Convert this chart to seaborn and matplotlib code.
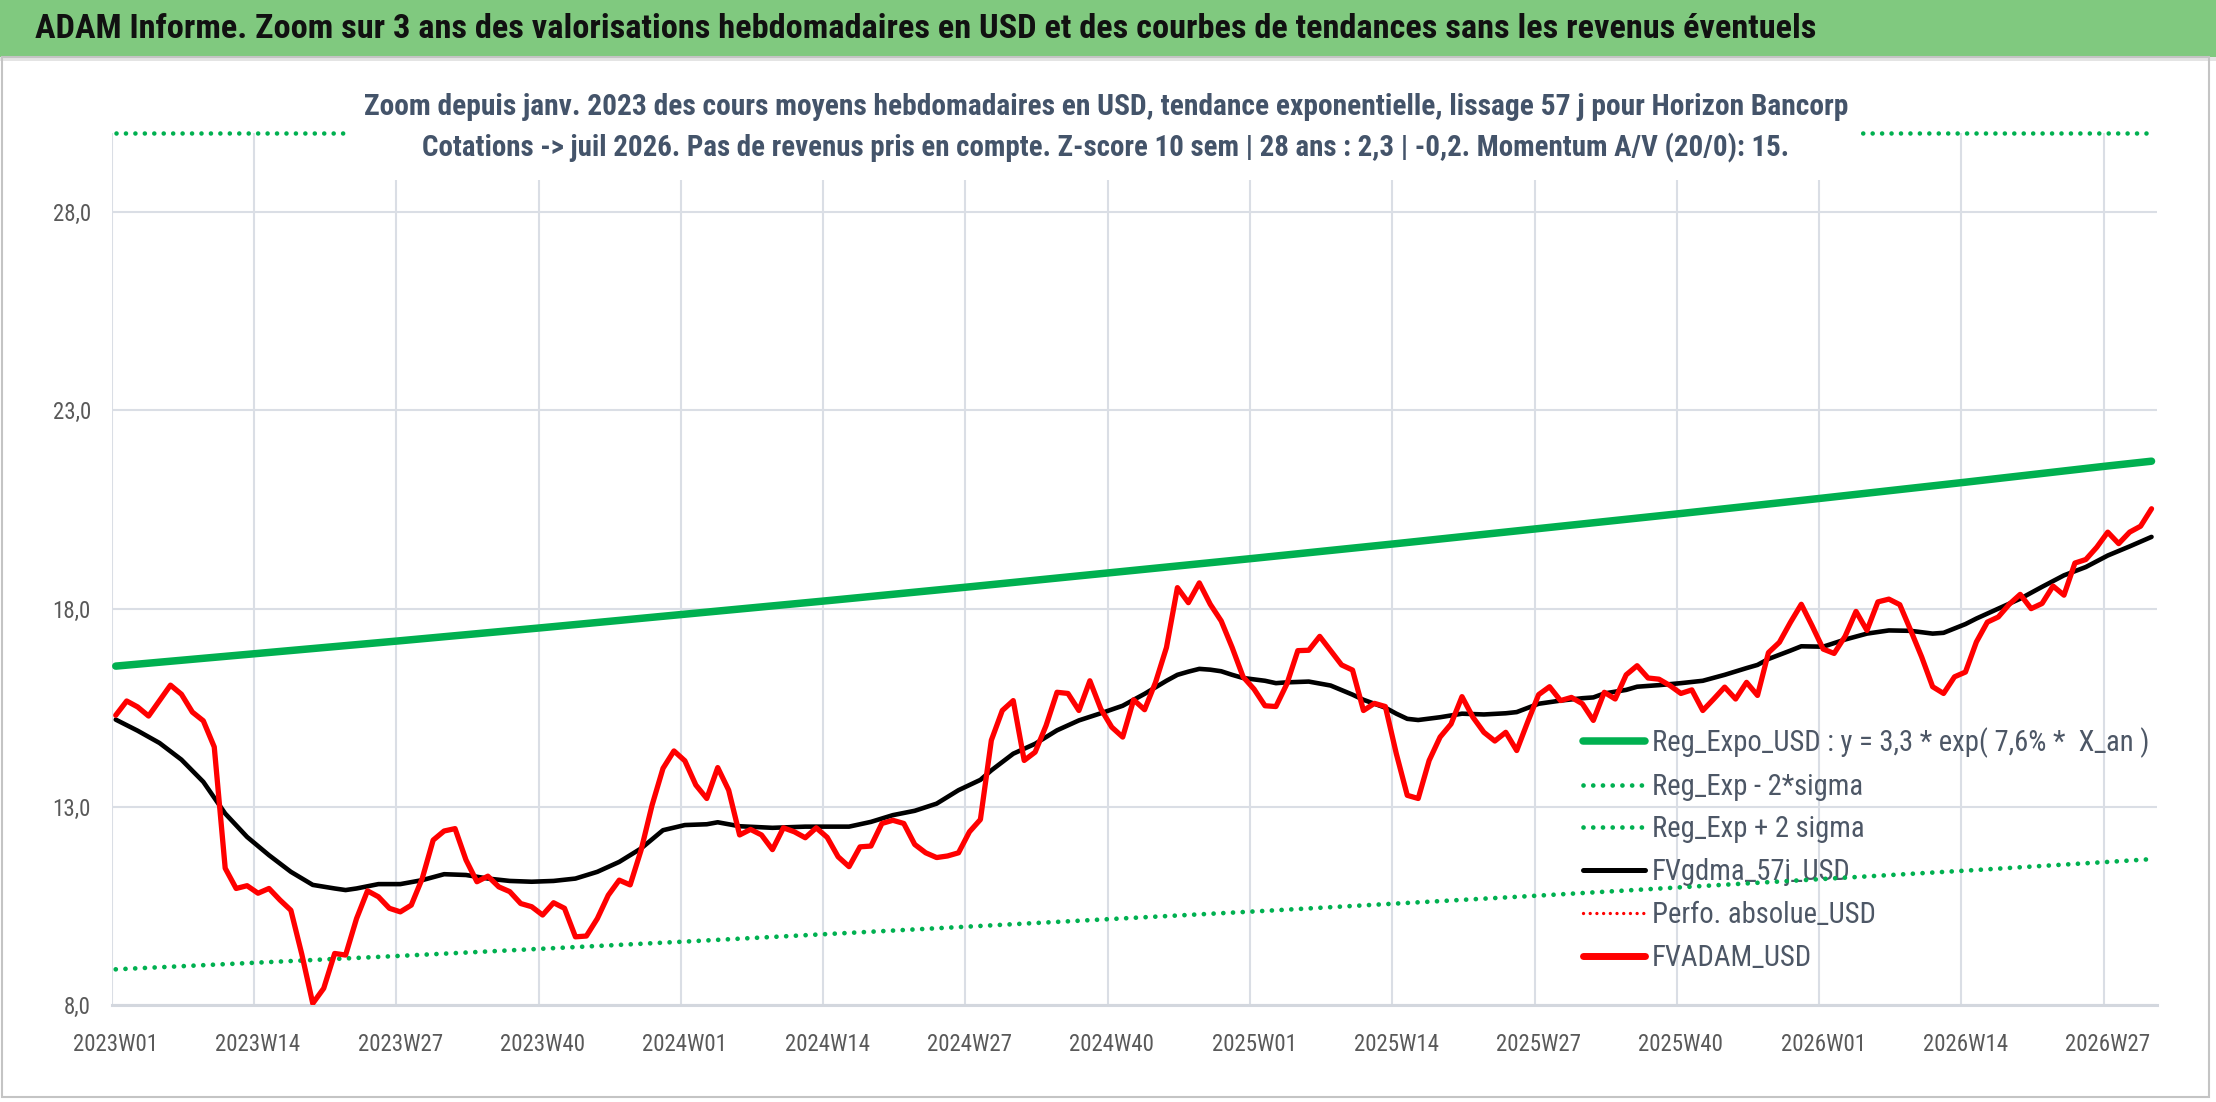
import matplotlib
matplotlib.use("Agg")
import matplotlib.pyplot as plt
from matplotlib import font_manager
from matplotlib.lines import Line2D
from matplotlib.patches import Rectangle
import numpy as np
import seaborn as sns

# weekly categories 2023W01 -> 2026W31
weeks = [f"{y}W{w:02d}" for y in (2023, 2024, 2025) for w in range(1, 53)] + \
        [f"2026W{w:02d}" for w in range(1, 32)]

# FVADAM_USD, weekly average price
fvadam = [15.31, 15.67, 15.52, 15.29, 15.68, 16.07, 15.84, 15.39, 15.17, 14.51,
          11.45, 10.94, 11.01, 10.82, 10.94, 10.65, 10.39, 9.28, 8.04, 8.42,
          9.30, 9.26, 10.18, 10.88, 10.73, 10.44, 10.35, 10.52, 11.19, 12.16,
          12.39, 12.45, 11.66, 11.11, 11.25, 10.98, 10.86, 10.56, 10.48, 10.27,
          10.58, 10.44, 9.72, 9.74, 10.18, 10.77, 11.15, 11.03, 11.91, 13.04,
          13.97, 14.41, 14.16, 13.55, 13.21, 13.99, 13.42, 12.29, 12.43, 12.29,
          11.92, 12.47, 12.37, 12.22, 12.47, 12.23, 11.74, 11.49, 11.99, 12.01,
          12.58, 12.66, 12.58, 12.05, 11.84, 11.72, 11.76, 11.84, 12.37, 12.68,
          14.68, 15.43, 15.68, 14.17, 14.38, 15.05, 15.89, 15.86, 15.43, 16.18,
          15.47, 15.01, 14.76, 15.70, 15.45, 16.14, 17.02, 18.53, 18.15, 18.65,
          18.11, 17.69, 17.02, 16.28, 15.97, 15.55, 15.53, 16.10, 16.94, 16.95,
          17.30, 16.94, 16.58, 16.45, 15.43, 15.61, 15.53, 14.34, 13.29, 13.21,
          14.17, 14.76, 15.09, 15.78, 15.26, 14.88, 14.66, 14.88, 14.42, 15.14,
          15.83, 16.03, 15.68, 15.76, 15.60, 15.18, 15.89, 15.72, 16.33, 16.56,
          16.25, 16.22, 16.06, 15.86, 15.95, 15.43, 15.72, 16.02, 15.72, 16.14,
          15.81, 16.89, 17.15, 17.65, 18.11, 17.56, 16.98, 16.87, 17.30, 17.93,
          17.45, 18.17, 18.24, 18.10, 17.45, 16.78, 16.03, 15.86, 16.28, 16.40,
          17.16, 17.66, 17.79, 18.11, 18.36, 18.00, 18.13, 18.57, 18.34, 19.15,
          19.24, 19.55, 19.93, 19.64, 19.93, 20.08, 20.52]

# FVgdma_57j_USD (smoothed), read at these week indices
gdma_idx = [0, 2, 4, 6, 8, 10, 12, 14, 16, 18, 20, 21, 22, 24, 26, 28, 30, 32, 34, 36,
            38, 40, 42, 44, 46, 48, 50, 52, 54, 55, 57, 60, 63, 66, 67, 69, 71, 73, 75, 77,
            79, 80, 82, 84, 86, 88, 90, 92, 94, 96, 97, 98, 99, 100, 101, 102, 103, 105, 106, 107,
            109, 111, 113, 114, 116, 117, 118, 119, 121, 123, 125, 127, 128, 130, 132, 134, 135, 136, 138, 139,
            141, 143, 145, 147, 149, 150, 151, 153, 154, 156, 158, 160, 162, 164, 166, 167, 168, 169, 170, 172,
            174, 176, 178, 180, 182, 184, 186]
gdma = [15.20, 14.92, 14.61, 14.19, 13.63, 12.83, 12.24, 11.78, 11.36, 11.03, 10.94, 10.90, 10.94, 11.05, 11.05, 11.15, 11.30, 11.28, 11.19, 11.13,
        11.11, 11.13, 11.19, 11.36, 11.61, 11.95, 12.41, 12.54, 12.56, 12.61, 12.51, 12.47, 12.50, 12.50, 12.50, 12.62, 12.79, 12.90, 13.08, 13.42,
        13.68, 13.92, 14.34, 14.59, 14.93, 15.18, 15.36, 15.55, 15.85, 16.18, 16.33, 16.41, 16.48, 16.46, 16.42, 16.33, 16.25, 16.18, 16.12, 16.14,
        16.16, 16.06, 15.83, 15.70, 15.50, 15.35, 15.22, 15.19, 15.26, 15.35, 15.33, 15.36, 15.39, 15.60, 15.68, 15.74, 15.76, 15.86, 15.95, 16.03,
        16.07, 16.12, 16.18, 16.33, 16.50, 16.58, 16.73, 16.94, 17.05, 17.04, 17.22, 17.37, 17.45, 17.44, 17.37, 17.39, 17.50, 17.61, 17.75, 18.00,
        18.25, 18.55, 18.84, 19.05, 19.34, 19.57, 19.81]

# exponential regression and +/- 2 sigma bands, read every 13 weeks + last week
band_idx = [0, 13, 26, 39, 52, 65, 78, 91, 104, 117, 130, 143, 156, 169, 182, 186]
reg_expo = [16.55, 16.87, 17.19, 17.52, 17.86, 18.20, 18.55, 18.91, 19.27, 19.64,
            20.02, 20.40, 20.79, 21.19, 21.60, 21.72]
reg_low = [8.90, 9.07, 9.24, 9.42, 9.60, 9.79, 9.98, 10.17, 10.36, 10.56,
           10.76, 10.97, 11.18, 11.39, 11.61, 11.68]
reg_high = [30.78, 31.37, 31.97, 32.58, 33.21, 33.85, 34.50, 35.16, 35.83, 36.52,
            37.22, 37.93, 38.66, 39.40, 40.15, 40.39]   # off the scale, drawn at the top edge

yticks = [8, 13, 18, 23, 28]
ytick_labels = ["8,0", "13,0", "18,0", "23,0", "28,0"]
tick_pos = list(range(0, len(weeks), 13))

title = "ADAM Informe. Zoom sur 3 ans des valorisations hebdomadaires en USD et des courbes de tendances sans les revenus éventuels"
sub1 = "Zoom depuis janv. 2023 des cours moyens hebdomadaires en USD, tendance exponentielle, lissage 57 j pour Horizon Bancorp"
sub2 = "Cotations -> juil 2026. Pas de revenus pris en compte. Z-score 10 sem | 28 ans : 2,3 | -0,2. Momentum A/V (20/0): 15."
legend_labels = ["Reg_Expo_USD : y = 3,3 * exp( 7,6% *  X_an )", "Reg_Exp - 2*sigma", "Reg_Exp + 2 sigma",
                 "FVgdma_57j_USD", "Perfo. absolue_USD", "FVADAM_USD"]

# font: something narrow like Calibri if we have it
available = {f.name for f in font_manager.fontManager.ttflist}
font = "DejaVu Sans"
for cand in ["Liberation Sans Narrow", "Noto Sans Condensed", "Roboto Condensed", "Open Sans Condensed", "Lato"]:
    if cand in available:
        font = cand
        break

sns.set_theme(style="white")
plt.rcParams["font.family"] = [font, "DejaVu Sans"]

W, H = 2216, 1102
fig = plt.figure(figsize=(W / 100, H / 100), dpi=100)
ax = fig.add_axes([111.7 / W, 1 - 1005 / H, (2157 - 111.7) / W, (1005 - 133) / H])

green = "#00b050"
grid_c = "#dadee5"
dot = (0, (0.01, 2.05))

x = np.arange(len(weeks))
sns.lineplot(x=band_idx, y=np.minimum(reg_high, 30), ax=ax, color=green, linewidth=3.3,
             linestyle=dot, dash_capstyle="round", clip_on=False, zorder=2)
sns.lineplot(x=band_idx, y=reg_low, ax=ax, color=green, linewidth=3.4,
             linestyle=dot, dash_capstyle="round", zorder=2)
sns.lineplot(x=band_idx, y=reg_expo, ax=ax, color=green, linewidth=5.4, zorder=3)
sns.lineplot(x=gdma_idx, y=gdma, ax=ax, color="black", linewidth=3.3, zorder=4)
sns.lineplot(x=x, y=fvadam, ax=ax, color="#ff0000", linewidth=3.8, zorder=5)

ax.set_xlim(-0.37, 186.5)
ax.set_ylim(8, 30)
ax.set_yticks(yticks)
ax.set_yticklabels(ytick_labels)
ax.set_xticks(tick_pos)
ax.set_xticklabels([weeks[i] for i in tick_pos])
ax.set_xticks([p - 0.37 for p in tick_pos], minor=True)
ax.tick_params(axis="x", which="major", length=0, pad=20, labelsize=16.5, labelcolor="#595959")
ax.tick_params(axis="x", which="minor", length=6, width=1.4, color=grid_c, direction="out")
ax.tick_params(axis="y", length=0, pad=15, labelsize=16.5, labelcolor="#595959")
ax.grid(False)
ax.yaxis.grid(True, color=grid_c, linewidth=1.5)
ax.xaxis.grid(True, which="minor", color=grid_c, linewidth=1.5)
ax.set_axisbelow(True)
for s in ["top", "right", "left"]:
    ax.spines[s].set_visible(False)
ax.spines["bottom"].set_color("#d3d7de")
ax.spines["bottom"].set_linewidth(2.2)
ax.set_xlabel("")
ax.set_ylabel("")

handles = [
    Line2D([], [], color=green, linewidth=5.4),
    Line2D([], [], color=green, linewidth=3.4, linestyle=dot, dash_capstyle="round"),
    Line2D([], [], color=green, linewidth=3.4, linestyle=dot, dash_capstyle="round"),
    Line2D([], [], color="black", linewidth=3.6),
    Line2D([], [], color="#ff0000", linewidth=2.4, linestyle=(0, (0.01, 2.0)), dash_capstyle="round"),
    Line2D([], [], color="#ff0000", linewidth=5.0),
]
leg = ax.legend(handles, legend_labels, loc="upper left", frameon=False, fontsize=20.6,
                bbox_to_anchor=(1583 / W, 1 - 727 / H), bbox_transform=fig.transFigure,
                borderpad=0, borderaxespad=0, handlelength=2.15, handletextpad=0.27,
                labelspacing=0.52, labelcolor="#4d5766")
leg.set_zorder(1)

# header band, frame and the white box behind the subtitle
fig.patches.append(Rectangle((0, 1 - 57 / H), 1, 57 / H, transform=fig.transFigure,
                             facecolor="#80c97f", edgecolor="none", zorder=3))
fig.patches.append(Rectangle((0, 1 - 61 / H), 1, 4 / H, transform=fig.transFigure,
                             facecolor="#e4e4e4", edgecolor="none", zorder=3))
fig.patches.append(Rectangle((350 / W, 1 - 180 / H), 1510 / W, 112 / H, transform=fig.transFigure,
                             facecolor="white", edgecolor="none", zorder=3))
fig.patches.append(Rectangle((2 / W, 5 / H), 2207 / W, (1102 - 62) / H, transform=fig.transFigure,
                             facecolor="none", edgecolor="#c4c4c4", linewidth=1.5, zorder=3))

t0 = fig.text(35 / W, 1 - 29 / H, title, fontsize=22, fontweight="bold", color="#111111",
              va="center", ha="left", zorder=4)
t1 = fig.text(1106 / W, 1 - 107 / H, sub1, fontsize=19, color="#44546a", fontweight="semibold",
              va="center", ha="center", zorder=4)
t2 = fig.text(1106 / W, 1 - 148 / H, sub2, fontsize=19, color="#44546a", fontweight="semibold",
              va="center", ha="center", zorder=4)

# scale the header texts so they span the same width as in the original
fig.canvas.draw()
r = fig.canvas.get_renderer()
for t, target in [(t0, 1782), (t1, 1487), (t2, 1372)]:
    w = t.get_window_extent(r).width
    t.set_fontsize(t.get_fontsize() * target / w)

fig.savefig("out.png", dpi=100)
